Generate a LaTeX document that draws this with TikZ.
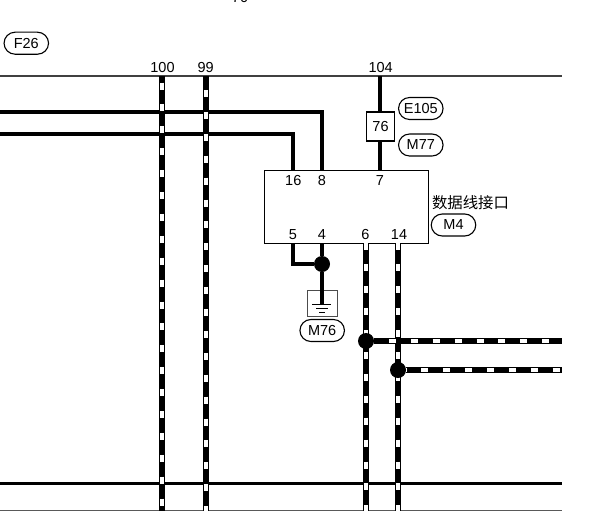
\documentclass[tikz,border=0pt]{standalone}
\usepackage{fontspec}
\setmainfont{Liberation Sans}
\newfontfamily\cjkf{Noto Sans CJK SC}
\tikzset{
  x=1pt,y=-1pt,
  pill/.style={draw=black,line width=1.1pt,rounded corners=11pt,minimum width=44.5pt,minimum height=22pt,inner sep=0pt,font=\fontsize{14.5}{16}\selectfont},
  lbl/.style={inner sep=0pt,font=\fontsize{14.5}{16}\selectfont},
  jn/.style={circle,fill=black,draw=none,minimum size=16pt,inner sep=0pt},
  heavywire/.style={line width=3.9pt,draw=black},
  medwire/.style={line width=3.3pt,draw=black},
  datablack/.style={line width=5.6pt,draw=black},
  datawhite/.style={line width=3.4pt,draw=white,dash pattern=on 7pt off 14.9pt},
}
\begin{document}
\begin{tikzpicture}
\useasboundingbox (0,0) rectangle (601,511);
\begin{scope}
\clip (0,0) rectangle (601,511);
\coordinate (LT) at (0,76); \coordinate (RT) at (562,76);
\coordinate (LA) at (0,112); \coordinate (LB) at (0,134);
\coordinate (LC) at (0,483); \coordinate (RC) at (562,483);
\coordinate (LD) at (0,510.5); \coordinate (RD) at (562,510.5);
\coordinate (T100) at (162,76); \coordinate (B100) at (162,511);
\coordinate (T99) at (206,76); \coordinate (B99) at (206,511);
\coordinate (T104) at (380,76);
\coordinate (R1) at (562,341); \coordinate (R2) at (562,370);
\coordinate (B6) at (366,511); \coordinate (B14) at (398,511);
\draw[line width=1.1pt,draw=black!75] (LT) -- (RT);
\draw[line width=1pt,draw=black!65] (LD) -- (RD);
\node[draw=black,line width=0.8pt,fill=white,minimum width=164pt,minimum height=73pt,inner sep=0pt] (box) at (346,206.5) {};
\coordinate (p16) at (293,170); \coordinate (p8) at (322,170); \coordinate (p7) at (380,170);
\coordinate (p5) at (293,243); \coordinate (p4) at (322,243); \coordinate (p6) at (366,243); \coordinate (p14) at (398,243);
\draw[heavywire] (LA) -- (322,112) -- (p8);
\draw[medwire] (LB) -- (293,134) -- (p16);
\draw[line width=3pt,draw=black] (LC) -- (RC);
\draw[datablack] (T100) -- (B100);
\draw[datawhite,dash phase=15.4] (T100) -- (B100);
\draw[datablack] (T99) -- (B99);
\draw[datawhite,dash phase=7.9] (T99) -- (B99);
\node[draw=black,line width=1.2pt,fill=white,minimum width=28.5pt,minimum height=29pt,inner sep=0pt,lbl] (c76) at (380.5,126.5) {76};
\draw[heavywire] (T104) -- (c76.north -| T104);
\draw[heavywire] (c76.south -| T104) -- (p7);
\draw[datablack] (p6) -- (B6);
\draw[datawhite,dash phase=0.5] (p6) -- (B6);
\draw[datablack] (p14) -- (B14);
\draw[datawhite,dash phase=0.5] (p14) -- (B14);
\node[jn] (j4) at (322,264) {};
\node[jn] (j6) at (366,341) {};
\node[jn] (j14) at (398,370) {};
\draw[medwire] (p5) -- (293,264) -- (j4);
\draw[heavywire] (p4) -- (j4);
\draw[datablack] (j6) -- (R1);
\draw[datawhite,dash phase=7.2] (j6) -- (R1);
\draw[datablack] (j14) -- (R2);
\draw[datawhite,dash phase=6.9] (j14) -- (R2);
\node[draw=black!70,line width=1pt,minimum width=29.5pt,minimum height=26pt,inner sep=0pt] (gnd) at (322.3,303) {};
\coordinate (g) at (322,304);
\draw[heavywire] (j4) -- (g);
\draw[line width=1pt] (312,304) -- (331,304);
\draw[line width=1pt] (316,308) -- (328,308);
\draw[line width=1pt] (319,312) -- (325,312);
\node[lbl] (t16) at (293.3,181) {16};
\node[lbl] (t8) at (322,181) {8};
\node[lbl] (t7) at (380,181) {7};
\node[lbl] (t5) at (293,235) {5};
\node[lbl] (t4) at (322,235) {4};
\node[lbl] (t6) at (365.5,235) {6};
\node[lbl] (t14) at (399,235) {14};
\node[lbl] (t100) at (162.5,67.5) {100};
\node[lbl] (t99) at (205.6,67.5) {99};
\node[lbl] (t104) at (380.7,67.5) {104};
\node[lbl] (t70) at (240,-2) {70};
\node[pill] (F26) at (26.3,43.2) {F26};
\node[pill] (E105) at (420.8,108.5) {E105};
\node[pill] (M77) at (420.8,145) {M77};
\node[pill] (M4) at (453.5,225) {M4};
\node[pill] (M76) at (322.2,330.5) {M76};
\node[inner sep=0pt,font=\cjkf\fontsize{15.4}{17}\selectfont] (name) at (470.5,202.5) {数据线接口};
\end{scope}
\end{tikzpicture}
\end{document}
